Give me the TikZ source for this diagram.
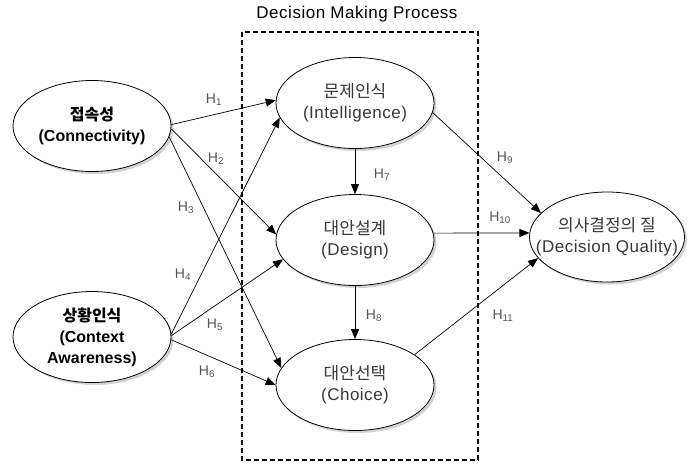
\documentclass[tikz,border=0pt]{standalone}
\usepackage{fontspec}
\setmainfont{Liberation Sans}
\newfontfamily\wide{Liberation Sans}[LetterSpace=3]
\newfontfamily\kr{Noto Sans CJK KR}
\usepackage{tikz}
\usetikzlibrary{arrows.meta,shapes.geometric,shadows}
\definecolor{txtgray}{HTML}{383838}
\definecolor{hgray}{HTML}{555555}
\newcommand{\hyp}[1]{H\textsubscript{#1}}

\begin{document}
\begin{tikzpicture}[x=1pt,y=-1pt,every node/.style={font=\fontsize{16}{21}\selectfont}]
\tikzset{cv/.style={ellipse, draw, fill=white, line width=0.8pt, align=center, inner sep=0pt,
    minimum width=158pt, minimum height=91pt,
    drop shadow={shadow xshift=2.5pt, shadow yshift=-2.5pt, fill=gray!70}},
  ext/.style={cv, font=\fontsize{16}{21}\selectfont\bfseries},
  mid/.style={cv, text=txtgray, font=\fontsize{17}{21}\selectfont\wide},
  hl/.style={text=hgray, font=\fontsize{14}{16}\selectfont},
  arr/.style={-{Triangle[length=10pt,width=8pt]}, line width=0.7pt},
  dbox/.style={dash pattern=on 5pt off 3pt, line width=1.4pt}}
\useasboundingbox (0,0) rectangle (700,464);
% process frame and its title
\draw[dbox] (242,32) rectangle (478,460);
\node (title) at (357,14) {\fontsize{17}{20}\selectfont\wide Decision Making Process};
% external factors
\node[ext] (con) at (92,126) {{\kr 접속성}\\(Connectivity)};
\node[ext] (ctx) at (92,337) {{\kr 상황인식}\\(Context\\Awareness)};
% decision stages
\node[mid] (int) at (355,103) {{\kr 문제인식}\\(Intelligence)};
\node[mid] (des) at (355,240) {{\kr 대안설계}\\(Design)};
\node[mid] (cho) at (355,385) {{\kr 대안선택}\\(Choice)};
% outcome
\node[mid, minimum width=155pt, minimum height=90pt, inner xsep=-19pt] (dq) at (607,237)
  {{\kr 의사결정의 질}\\(Decision Quality)};
% paths
\foreach \a/\b in {con.1/int.178, con.-2/des.176, con.-8/cho.167,
                   ctx.2/int.191, ctx.1/des.195, ctx.-2/cho.180,
                   int.south/des.north, des.south/cho.north,
                   int.-7/dq.160, des.5/dq.177, cho.27/dq.197}
  \draw[arr] (\a) -- (\b);
% hypothesis labels
\foreach \n/\x/\y in {1/214/100, 2/216/159, 3/186/208, 4/183/275, 5/215/325, 6/207/372,
                      7/382/175, 8/374/316, 9/505/158, 10/500/218, 11/503/316}
  \node[hl] (h\n) at (\x,\y) {\hyp{\n}};
\end{tikzpicture}
\end{document}
